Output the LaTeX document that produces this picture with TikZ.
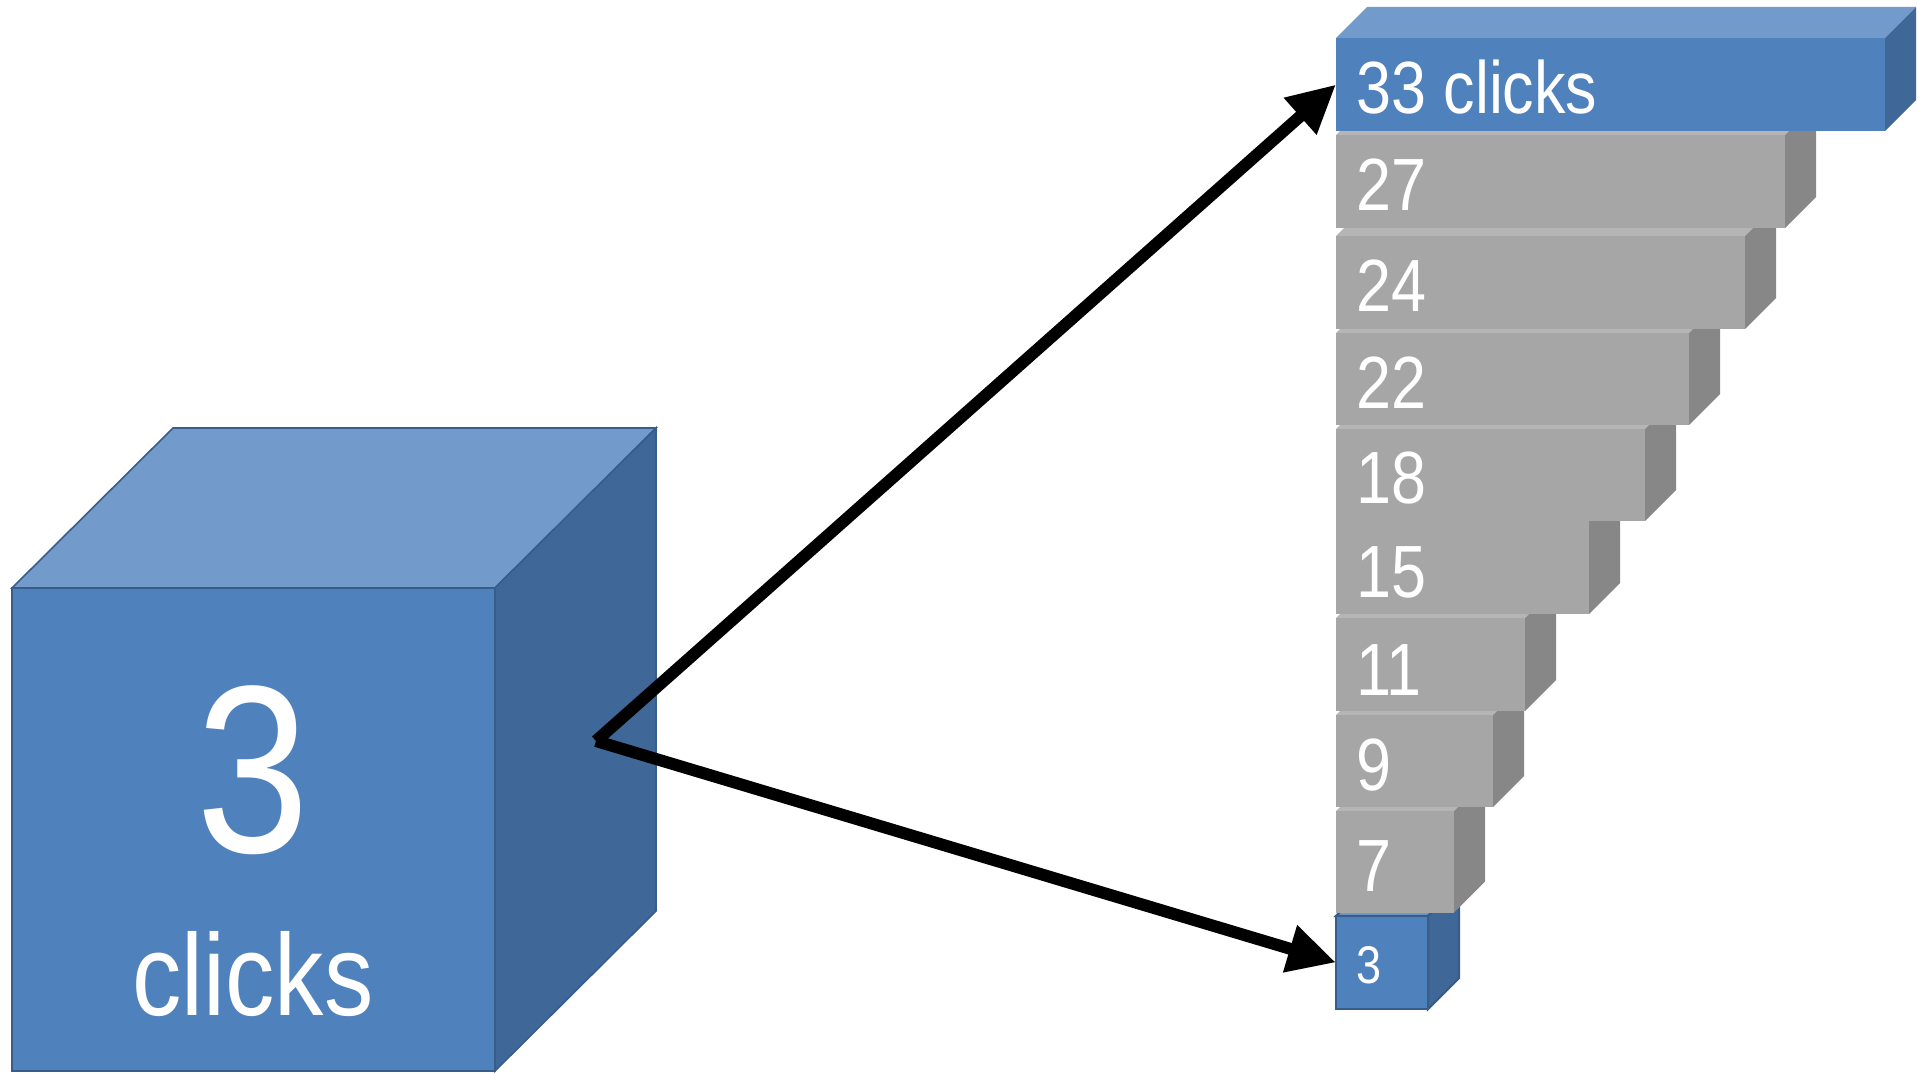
\documentclass[tikz,border=0pt]{standalone}
\usepackage{fontspec}
\setmainfont{Liberation Sans}[FakeStretch=0.85]
\usetikzlibrary{arrows.meta}

\definecolor{bluefront}{HTML}{4F81BD}
\definecolor{bluetop}{HTML}{729ACA}
\definecolor{blueside}{HTML}{3F6898}
\definecolor{blueedge}{HTML}{385D8A}
\definecolor{greyfront}{HTML}{A6A6A6}
\definecolor{greyside}{HTML}{878787}
\definecolor{greytop}{HTML}{B5B5B5}

\begin{document}
\begin{tikzpicture}[x=1pt, y=-1pt,
  facefront/.style={rectangle, inner sep=0pt, outer sep=0pt, anchor=north west},
  lbl/.style={text=white, inner sep=0pt, anchor=base west, font=\fontsize{74}{80}\selectfont},
  bigedge/.style={draw=blueedge, line width=1.6pt, line join=miter},
  arrowline/.style={line width=12pt, -{Triangle[length=48pt, width=46pt]}}
]
\useasboundingbox (0,0) rectangle (1918,1073);

% ---- large cube -------------------------------------------------------
\filldraw[bigedge, fill=bluetop] (12,588) -- (173,428) -- (656,428) -- (495,588) -- cycle;
\filldraw[bigedge, fill=blueside] (495,588) -- (656,428) -- (656,911) -- (495,1071) -- cycle;
\node[facefront, bigedge, fill=bluefront, minimum width=483pt, minimum height=483pt] (cube) at (12,588) {};
\node[text=white, inner sep=0pt, anchor=base, font=\fontsize{239}{240}\selectfont] (bignum) at (253,852) {3};
\node[text=white, inner sep=0pt, anchor=base, font=\fontsize{116}{120}\selectfont] (bigword) at (253,1015) {clicks};

% ---- small blue box at the bottom of the stack --------------------------
\filldraw[draw=blueedge, line width=2.4pt, fill=bluetop] (1336,916) -- (1428,916) -- (1459,885) -- (1367,885) -- cycle;
\filldraw[draw=blueedge, line width=2.4pt, fill=blueside] (1428,916) -- (1459,885) -- (1459,978) -- (1428,1009) -- cycle;
\node[facefront, draw=blueedge, line width=2.4pt, fill=bluefront, minimum width=92pt, minimum height=93pt] (b3) at (1336,916) {};
\node[lbl, font=\fontsize{53}{56}\selectfont] (t3) at (1356,983) {3};

% ---- grey slabs, drawn from the bottom up -----------------------------
\foreach \n/\r/\t/\b/\bl in {7/1454/811/912.5/891.7, 9/1493/715/807/790.5,
    11/1525/618/711/695, 15/1589/521/614/597, 18/1645/429/521/503,
    22/1689/333/425/408, 24/1745/236/329/311.7, 27/1785/135/228/210}{
  \pgfmathsetmacro\w{\r-1336}
  \pgfmathsetmacro\h{\b-\t}
  \fill[greytop] (1336,\t) -- (\r,\t) -- ++(31,-31) -- (1367,\t-31) -- cycle;
  \fill[greyside] (\r,\t) -- ++(31,-31) -- (\r+31,\b-31) -- (\r,\b) -- cycle;
  \node[facefront, fill=greyfront, minimum width=\w pt, minimum height=\h pt] (g\n) at (1336,\t) {};
  \node[lbl] (t\n) at (1356,\bl) {\n};
}

% ---- blue slab on top ------------------------------------------------
\fill[bluetop] (1336,38) -- (1885,38) -- (1916,7) -- (1367,7) -- cycle;
\fill[blueside] (1885,38) -- (1916,7) -- (1916,100) -- (1885,131) -- cycle;
\node[facefront, fill=bluefront, minimum width=549pt, minimum height=93pt] (s33) at (1336,38) {};
\node[lbl] (t33) at (1356,113) {33 clicks};

% ---- arrows ----------------------------------------------------------
\coordinate (src) at (596,741);
\draw[arrowline] (src) -- (s33.west);
\draw[arrowline] (src) -- (b3.west);
\end{tikzpicture}
\end{document}
